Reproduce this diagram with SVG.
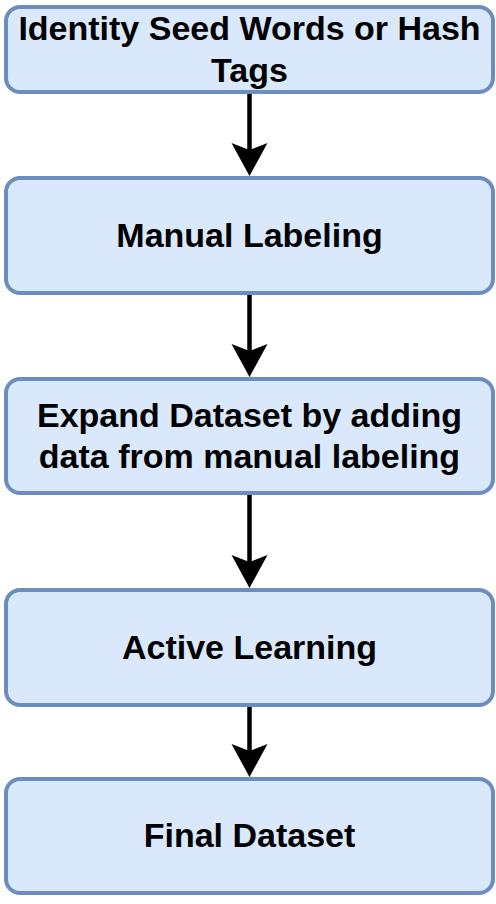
<svg xmlns="http://www.w3.org/2000/svg" width="496" height="904" viewBox="0 0 496 904">
  <defs>
    <style>
      .box { fill: #dae8fc; stroke: #6c8ebf; stroke-width: 4; }
      .lbl { font-family: "Liberation Sans", Arial, sans-serif; font-weight: bold; font-size: 34px; fill: #000000; text-anchor: middle; }
      .conn { stroke: #000000; stroke-width: 4.5; fill: none; marker-end: url(#arrow); }
    </style>
    <marker id="arrow" markerUnits="userSpaceOnUse" viewBox="0 -19 34 38" refX="13" refY="0" markerWidth="34" markerHeight="38" orient="auto">
      <path d="M0,-18 L33,0 L0,18 L7,0 Z" fill="#000000"/>
    </marker>
  </defs>
  <rect width="496" height="904" fill="#ffffff"/>
  <g id="connectors">
    <line class="conn" x1="249.5" y1="94" x2="249.5" y2="156"/>
    <line class="conn" x1="249.5" y1="295" x2="249.5" y2="357"/>
    <line class="conn" x1="249.5" y1="495" x2="249.5" y2="568"/>
    <line class="conn" x1="249.5" y1="707" x2="249.5" y2="757"/>
  </g>
  <g id="node1">
    <rect class="box" x="6" y="7" width="487" height="85" rx="14" ry="14"/>
    <text class="lbl" x="249.5" y="40">Identity Seed Words or Hash</text>
    <text class="lbl" x="249.5" y="82">Tags</text>
  </g>
  <g id="node2">
    <rect class="box" x="6" y="178" width="487" height="115" rx="14" ry="14"/>
    <text class="lbl" x="249.5" y="247">Manual Labeling</text>
  </g>
  <g id="node3">
    <rect class="box" x="6" y="379" width="487" height="114" rx="14" ry="14"/>
    <text class="lbl" x="249.5" y="427">Expand Dataset by adding</text>
    <text class="lbl" x="249.5" y="468">data from manual labeling</text>
  </g>
  <g id="node4">
    <rect class="box" x="6" y="590" width="487" height="115" rx="14" ry="14"/>
    <text class="lbl" x="249.5" y="659">Active Learning</text>
  </g>
  <g id="node5">
    <rect class="box" x="6" y="779" width="487" height="114" rx="14" ry="14"/>
    <text class="lbl" x="249.5" y="847">Final Dataset</text>
  </g>
</svg>
